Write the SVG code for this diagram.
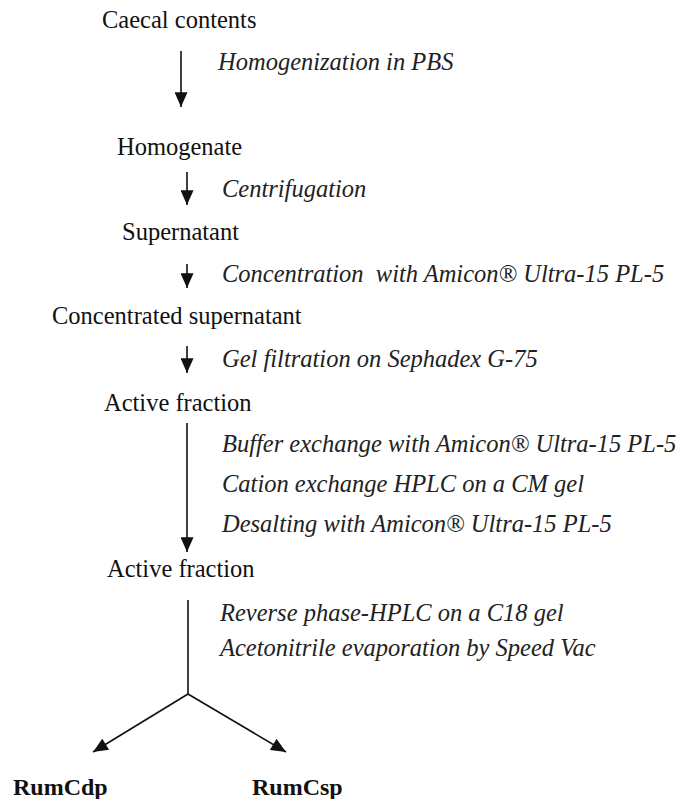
<svg xmlns="http://www.w3.org/2000/svg" width="678" height="799" viewBox="0 0 678 799">
  <style>
    text { font-size: 24.5px; fill: #111; }
    .step { font-style: italic; white-space: pre; fill: #222; }
    .product { font-weight: bold; font-size: 24px; }
    .conn line { stroke: #111; stroke-width: 1.6; fill: none; }
  </style>
  <defs>
    <marker id="head" viewBox="0 0 16 14" refX="16" refY="7" markerWidth="16" markerHeight="13" markerUnits="userSpaceOnUse" orient="auto">
      <path d="M0,0 L16,7 L0,14 z" fill="#111"/>
    </marker>
  </defs>

  <rect width="678" height="799" fill="#fff"/>

  <g font-family="'Liberation Serif', 'Times New Roman', 'DejaVu Serif', serif">
    <!-- sample stages -->
    <g id="caecal-contents"><text x="102" y="28">Caecal contents</text></g>
    <g id="homogenate"><text x="117" y="155">Homogenate</text></g>
    <g id="supernatant"><text x="122" y="240">Supernatant</text></g>
    <g id="concentrated-supernatant"><text x="52" y="324">Concentrated supernatant</text></g>
    <g id="active-fraction-1"><text x="104" y="411">Active fraction</text></g>
    <g id="active-fraction-2"><text x="107" y="577">Active fraction</text></g>
    <g id="rumcdp"><text class="product" x="13" y="795">RumCdp</text></g>
    <g id="rumcsp"><text class="product" x="252" y="795">RumCsp</text></g>

    <!-- processing steps -->
    <g id="steps">
      <text class="step" x="218" y="70">Homogenization in PBS</text>
      <text class="step" x="222" y="197">Centrifugation</text>
      <text class="step" x="222" y="282">Concentration  with Amicon® Ultra-15 PL-5</text>
      <text class="step" x="222" y="367">Gel filtration on Sephadex G-75</text>
      <text class="step" x="222" y="452">Buffer exchange with Amicon® Ultra-15 PL-5</text>
      <text class="step" x="222" y="492">Cation exchange HPLC on a CM gel</text>
      <text class="step" x="222" y="532">Desalting with Amicon® Ultra-15 PL-5</text>
      <text class="step" x="220" y="621">Reverse phase-HPLC on a C18 gel</text>
      <text class="step" x="220" y="656">Acetonitrile evaporation by Speed Vac</text>
    </g>
  </g>

  <!-- connectors -->
  <g class="conn" id="connectors">
    <line x1="181" y1="51" x2="181" y2="107" marker-end="url(#head)"/>
    <line x1="187" y1="172" x2="187" y2="205" marker-end="url(#head)"/>
    <line x1="187" y1="264" x2="187" y2="288" marker-end="url(#head)"/>
    <line x1="187" y1="346" x2="187" y2="373" marker-end="url(#head)"/>
    <line x1="187" y1="423" x2="187" y2="552" marker-end="url(#head)"/>
    <line x1="188" y1="600" x2="188" y2="694"/>
    <line x1="188" y1="694" x2="93" y2="752" marker-end="url(#head)"/>
    <line x1="188" y1="694" x2="286" y2="752" marker-end="url(#head)"/>
  </g>
</svg>
